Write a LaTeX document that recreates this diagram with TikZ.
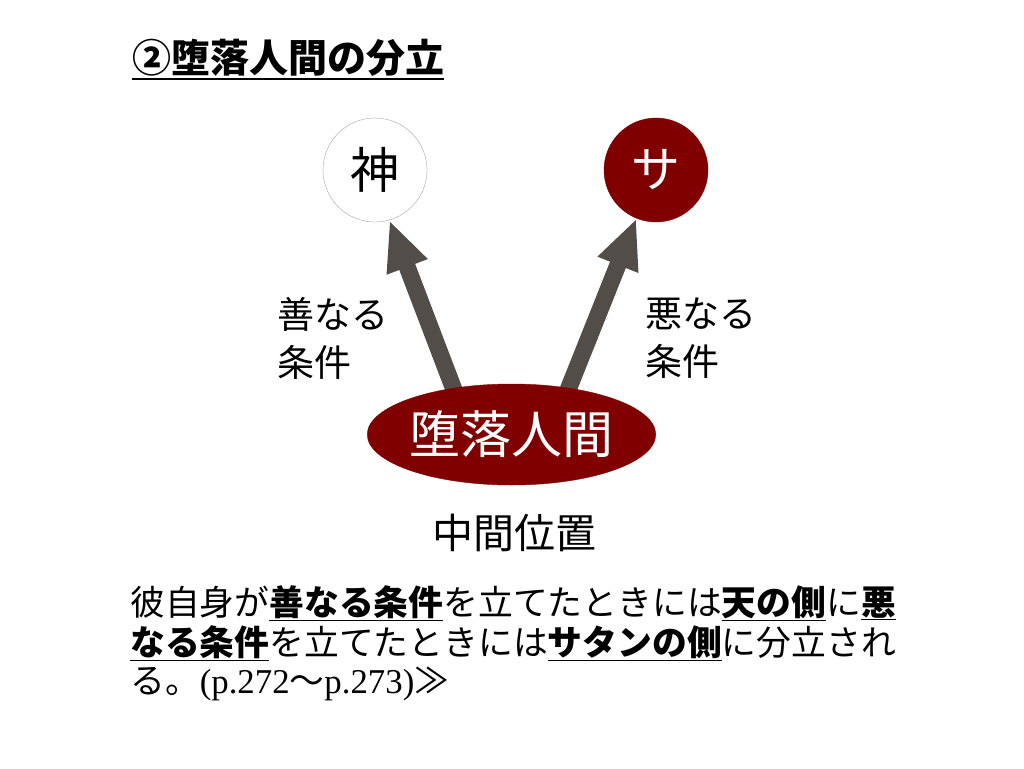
\documentclass[tikz,border=0pt]{standalone}
\usepackage{fontspec}
\setmainfont{Noto Sans CJK JP}
\newfontfamily\latinfont{Liberation Serif}
\usetikzlibrary{arrows.meta,shapes.geometric}
\definecolor{fallred}{RGB}{128,0,0}
\definecolor{arrowgray}{RGB}{82,77,73}
\newcommand{\keyword}[1]{\underline{\textbf{#1}}}

\begin{document}
\begin{tikzpicture}[x=1pt,y=-1pt,>={Triangle[length=50pt,width=40pt]},
  fatarrow/.style={->,line width=17pt,draw=arrowgray},
  condlabel/.style={font=\fontsize{37}{48}\selectfont,align=left,inner sep=0pt},
  bodyline/.style={anchor=west,font=\fontsize{34.8}{40}\selectfont,inner sep=0pt},
]
%
  \useasboundingbox (0,0) rectangle (1024,768);
  \node (title) at (288,58) [font=\fontsize{39}{40}\selectfont\bfseries,inner sep=0pt] {②堕落人間の分立};
  \draw [line width=2.5pt] ([yshift=-2pt]title.south west) -- ([yshift=-2pt]title.south east);
  \node (god) at (375,170) [draw=gray!70,circle,minimum size=104pt,inner sep=0pt,font=\fontsize{49}{50}\selectfont] {神};
  \node (satan) at (656,170) [draw=fallred,fill=fallred,circle,minimum size=104pt,inner sep=0pt,text=white,font=\fontsize{49}{50}\selectfont] {サ};
  \coordinate (baseL) at (456,395);
  \coordinate (baseR) at (566,395);
  \draw [fatarrow] (baseL) -- (god.286);
  \draw [fatarrow] (baseR) -- (satan.248);
  \node (man) at (511.5,434.5) [draw=fallred,fill=fallred,ellipse,minimum width=273pt,minimum height=101pt,inner sep=0pt,text=white,font=\fontsize{51}{52}\selectfont] {堕落人間};
  \node (good) at (333,338) [condlabel] {善なる\\条件};
  \node (evil) at (701,338) [condlabel] {悪なる\\条件};
  \node (middle) at (514,533) [font=\fontsize{41}{42}\selectfont,inner sep=0pt] {中間位置};
  \node (line1) at (130,603) [bodyline] {彼自身が\keyword{善なる条件}を立てたときには\keyword{天の側}に\keyword{悪}};
  \node (line2) at (130,643) [bodyline] {\keyword{なる条件}を立てたときには\keyword{サタンの側}に分立され};
  \node (line3) at (130,684) [bodyline] {る。{\latinfont (p.272}～{\latinfont p.273)}≫};
%
\end{tikzpicture}
\end{document}
